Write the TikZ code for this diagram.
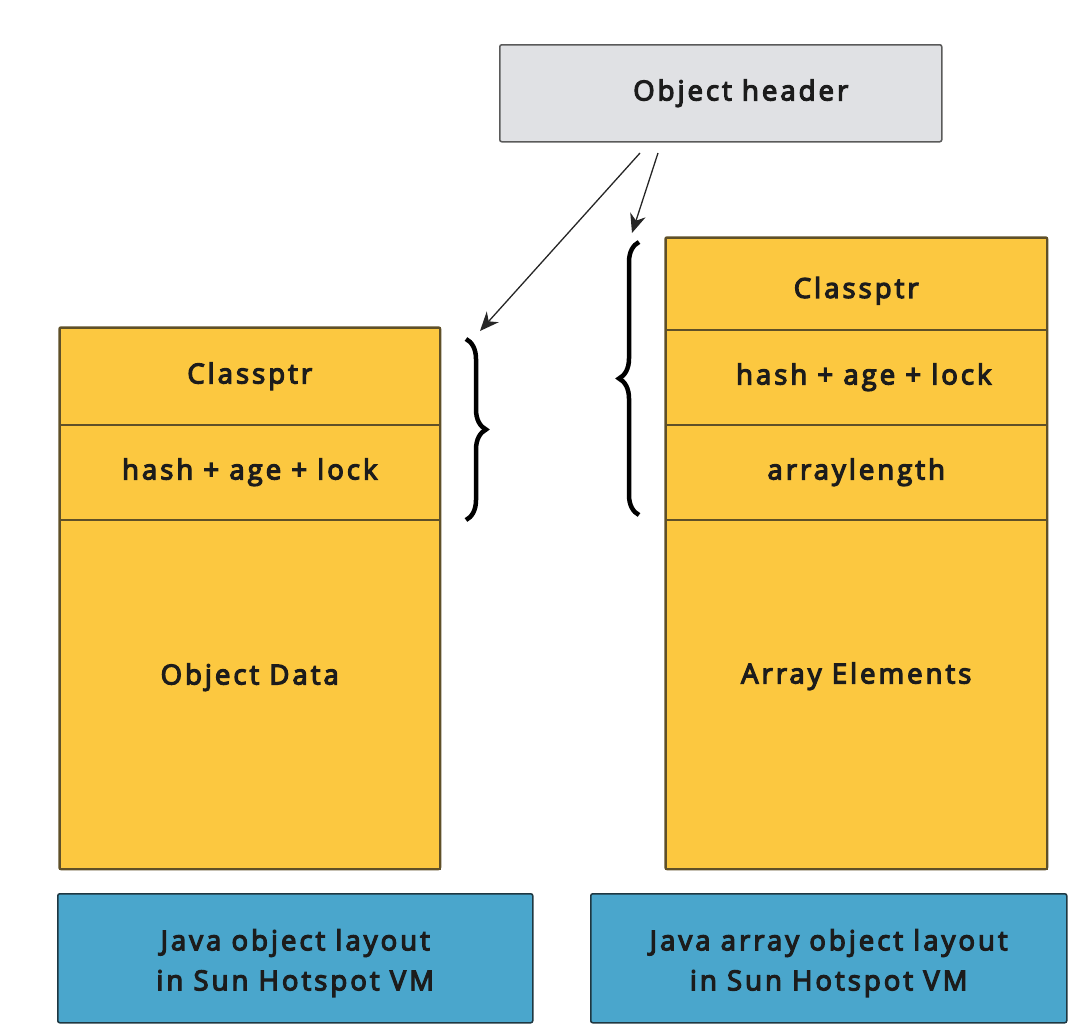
\documentclass[tikz,border=0pt]{standalone}
\usepackage{fontspec}
\setmainfont{Open Sans}
\newfontfamily\lblfont{Open Sans}[LetterSpace=11, FakeBold=4.5]
\usetikzlibrary{arrows.meta,decorations.pathreplacing}
\definecolor{hdrfill}{RGB}{224,225,228}
\definecolor{hdrdraw}{RGB}{90,90,90}
\definecolor{yfill}{RGB}{252,200,64}
\definecolor{ydraw}{RGB}{95,80,40}
\definecolor{bfill}{RGB}{74,166,204}
\definecolor{bdraw}{RGB}{30,55,65}
\definecolor{txt}{RGB}{28,28,28}
\newcommand{\shiftlbl}[2]{\raisebox{#1}[\height][\depth]{#2}}
\tikzset{
  box/.style={draw, line width=1.5pt, rounded corners=2pt, anchor=north west, inner sep=0pt,
    font=\lblfont\fontsize{27.5}{32}\selectfont, text=txt},
  hdrbox/.style={box, fill=hdrfill, draw=hdrdraw},
  cell/.style={box, fill=yfill, draw=ydraw, rounded corners=0pt},
  col/.style={draw=ydraw, line width=1.5pt, rounded corners=2pt},
  capbox/.style={box, fill=bfill, draw=bdraw, align=center, font=\lblfont\fontsize{27.5}{40}\selectfont},
  arr/.style={line width=1.3pt, draw=black!85, -{Stealth[length=19pt,width=16pt,inset=6pt]}},
  brc/.style={line width=4.5pt, decorate, decoration={brace, amplitude=20pt}}
}
\begin{document}
\begin{tikzpicture}[x=1pt,y=-1pt]
\useasboundingbox (0,0) rectangle (1084,1034);
% header
\node[hdrbox, minimum width=442pt, minimum height=97pt] (hdr) at (499,44) {\hspace*{40pt}Object header};
% left column
\node[cell, minimum width=380pt, minimum height=97pt] (lc1) at (59,327) {Classptr};
\node[cell, minimum width=380pt, minimum height=95pt] (lc2) at (59,424) {hash + age + lock};
\node[cell, minimum width=380pt, minimum height=349pt] (lc3) at (59,519) {\shiftlbl{17pt}{Object Data}};
\draw[col] (lc1.north west) rectangle (lc3.south east);
% right column
\node[cell, minimum width=381pt, minimum height=92pt] (rc1) at (665,237) {\shiftlbl{-7pt}{Classptr}};
\node[cell, minimum width=381pt, minimum height=95pt] (rc2) at (665,329) {\hspace*{15pt}hash + age + lock};
\node[cell, minimum width=381pt, minimum height=95pt] (rc3) at (665,424) {arraylength};
\node[cell, minimum width=381pt, minimum height=349pt] (rc4) at (665,519) {\shiftlbl{18pt}{Array Elements}};
\draw[col] (rc1.north west) rectangle (rc4.south east);
% captions
\node[capbox, minimum width=475pt, minimum height=129pt] (cap1) at (57,893) {\shiftlbl{-4pt}{\begin{tabular}{@{}c@{}}Java object layout\\in Sun Hotspot VM\end{tabular}}};
\node[capbox, minimum width=476pt, minimum height=129pt] (cap2) at (590,893) {\shiftlbl{-4pt}{\begin{tabular}{@{}c@{}}Java array object layout\\in Sun Hotspot VM\end{tabular}}};
% braces
\coordinate (lbt) at (466,339);
\coordinate (lbb) at (466,520);
\coordinate (rbt) at (639,242);
\coordinate (rbb) at (639,515);
\draw[brc] (lbt) -- (lbb);
\draw[brc] (rbb) -- (rbt);
% arrows
\coordinate (s1) at (640,153);
\coordinate (s2) at (658,153);
\coordinate (e1) at (480,331);
\coordinate (e2) at (632,233);
\draw[arr] (s1) -- (e1);
\draw[arr] (s2) -- (e2);
\end{tikzpicture}
\end{document}
